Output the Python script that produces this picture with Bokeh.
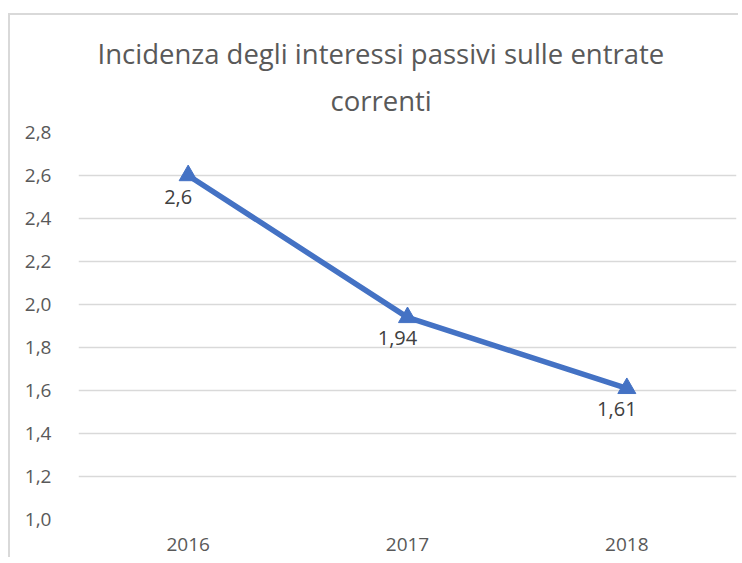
from bokeh.plotting import figure
from bokeh.models import (ColumnDataSource, FactorRange, Range1d, FixedTicker,
                          CustomJSTickFormatter, Title)
from bokeh.core.properties import value
from bokeh.embed import file_html
from bokeh.resources import INLINE

categories = ["2016", "2017", "2018"]
values = [2.6, 1.94, 1.61]
value_labels = ["2,6", "1,94", "1,61"]
y_ticks = [1.0, 1.2, 1.4, 1.6, 1.8, 2.0, 2.2, 2.4, 2.6, 2.8]
title_lines = ["Incidenza degli interessi passivi sulle entrate", "correnti"]

FONT = "Open Sans"
GRAY = "#595959"
BLUE = "#4472C4"

p = figure(width=738, height=557, output_backend="svg", toolbar_location=None,
           x_range=FactorRange(*categories, range_padding=0),
           y_range=Range1d(1.0, 2.8),
           min_border_left=78, min_border_right=2,
           min_border_top=132, min_border_bottom=38,
           styles={"box-shadow": ("inset 8px 0 0 0 #ffffff, inset 0 13px 0 0 #ffffff, "
                                  "inset 10px 0 0 0 #d9d9d9, inset 0 15px 0 0 #d9d9d9")})
p.outline_line_color = None
p.background_fill_color = "white"
p.border_fill_color = None

p.add_layout(Title(text=title_lines[1], align="left", offset=252, standoff=27,
                   text_font=FONT, text_font_size="27.5px", text_font_style="normal",
                   text_color=GRAY), "above")
p.add_layout(Title(text=title_lines[0], align="left", offset=19, standoff=-10,
                   text_font=FONT, text_font_size="27.5px", text_font_style="normal",
                   text_color=GRAY), "above")

p.xgrid.grid_line_color = None
p.ygrid.grid_line_color = "#d9d9d9"
p.ygrid.grid_line_width = 1.5
p.yaxis.ticker = FixedTicker(ticks=y_ticks)
p.yaxis.formatter = CustomJSTickFormatter(code="return tick.toFixed(1).replace('.', ',');")

for ax in (p.xaxis[0], p.yaxis[0]):
    ax.axis_line_color = None
    ax.major_tick_line_color = None
    ax.minor_tick_line_color = None
    ax.major_label_text_font = FONT
    ax.major_label_text_font_size = "19px"
    ax.major_label_text_color = GRAY
p.yaxis.major_label_standoff = 21
p.xaxis.major_label_standoff = 12

src = ColumnDataSource(dict(x=categories, y=values, lab=value_labels))
p.line("x", "y", source=src, line_color=BLUE, line_width=5.5)
p.scatter("x", "y", source=src, marker="triangle", size=18, fill_color=BLUE,
          line_color=BLUE)
p.text("x", "y", text="lab", source=src, x_offset=-10, y_offset=21,
       text_align="center", text_baseline="middle", text_font=value(FONT),
       text_font_size="20px", text_color="#404040")

open("out.html", "w").write(file_html(p, INLINE))
